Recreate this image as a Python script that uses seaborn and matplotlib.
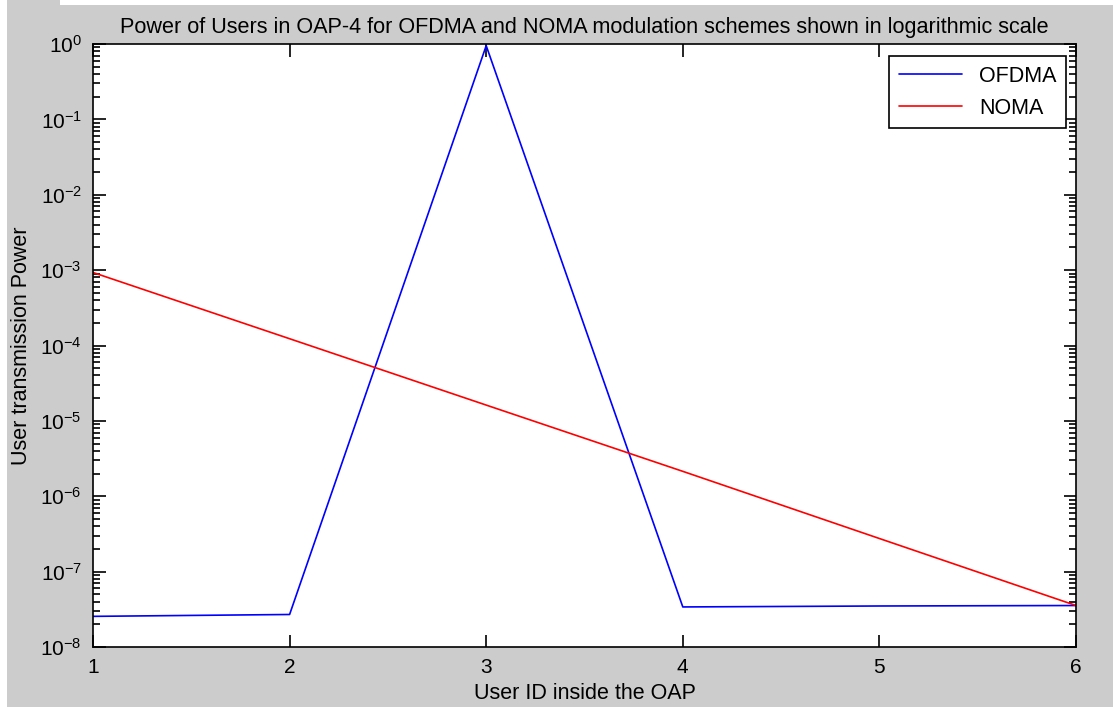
import matplotlib
matplotlib.use("Agg")
import matplotlib.pyplot as plt
import matplotlib.ticker as mticker
from matplotlib.patches import Rectangle
import numpy as np
import pandas as pd
import seaborn as sns

# User IDs and transmission powers per scheme
user_ids = [1, 2, 3, 4, 5, 6]
ofdma_power = [2.55e-8, 2.7e-8, 0.95, 3.4e-8, 3.5e-8, 3.55e-8]
noma_power = [9.3e-4, 1.23e-4, 1.62e-5, 2.14e-6, 2.75e-7, 3.55e-8]
schemes = ["OFDMA", "NOMA"]
x_ticks = [1, 2, 3, 4, 5, 6]
y_exponents = [-8, -7, -6, -5, -4, -3, -2, -1, 0]

df = pd.DataFrame({
    "user": user_ids * 2,
    "power": ofdma_power + noma_power,
    "scheme": [schemes[0]] * len(user_ids) + [schemes[1]] * len(user_ids),
})

sns.set_style("ticks")
plt.rcParams["font.family"] = ["Liberation Sans", "DejaVu Sans"]
plt.rcParams["mathtext.fontset"] = "custom"
plt.rcParams["mathtext.rm"] = "Liberation Sans"
plt.rcParams["mathtext.it"] = "Liberation Sans"
plt.rcParams["text.color"] = "black"
plt.rcParams["axes.labelcolor"] = "black"

bg = "#cccccc"
W, H = 1113, 707
fig = plt.figure(figsize=(W / 100, H / 100), dpi=100, facecolor=bg)

# thin white border strips along the left and top edges of the window
fig.patches.append(Rectangle((0, 0), 7 / W, 1, transform=fig.transFigure,
                             facecolor="white", edgecolor="none", zorder=0))
fig.patches.append(Rectangle((60 / W, 1 - 5 / H), 1, 5 / H, transform=fig.transFigure,
                             facecolor="white", edgecolor="none", zorder=0))

ax = fig.add_axes([93 / W, 1 - 647 / H, (1076 - 93) / W, (647 - 44) / H])
ax.set_facecolor("white")

sns.lineplot(data=df, x="user", y="power", hue="scheme", hue_order=schemes,
             palette={"OFDMA": "#0000ff", "NOMA": "#ff0000"}, linewidth=1.2,
             ax=ax, legend=True)

ax.set_yscale("log")
ax.set_xlim(1, 6)
ax.set_ylim(1e-8, 1e0)
ax.set_xticks(x_ticks)
ax.set_xticklabels([str(t) for t in x_ticks])

major_vals = [10.0 ** e for e in y_exponents]
minor_vals = [m * 10.0 ** e for e in y_exponents[:-1] for m in range(2, 10)]
ax.yaxis.set_major_locator(mticker.FixedLocator(major_vals))
ax.yaxis.set_minor_locator(mticker.FixedLocator(minor_vals))
ax.yaxis.set_minor_formatter(mticker.NullFormatter())
ax.yaxis.set_major_formatter(mticker.FixedFormatter(
    [r"$10^{\mathregular{%d}}$" % e for e in y_exponents]))

ax.tick_params(axis="both", which="both", direction="in", top=True, right=True,
               labelsize=15, colors="black", width=1.2)
ax.tick_params(axis="both", which="major", length=9, pad=8)
ax.tick_params(axis="both", which="minor", length=5)
for s in ax.spines.values():
    s.set_visible(True)
    s.set_linewidth(1.2)
    s.set_color("black")

ax.set_title("Power of Users in OAP-4 for OFDMA and NOMA modulation schemes shown in logarithmic scale",
             fontsize=15.6, pad=8, color="black")
ax.set_xlabel("User ID inside the OAP", fontsize=15.5, labelpad=4)
ax.set_ylabel("User transmission Power", fontsize=15.5, labelpad=6)

leg = ax.legend(loc="upper right", fontsize=15.5, frameon=True, fancybox=False,
                edgecolor="black", framealpha=1, borderpad=0.45, handlelength=2.9,
                borderaxespad=0, bbox_to_anchor=(0.9898, 0.980))
leg.get_frame().set_linewidth(1.2)
for t in leg.get_texts():
    t.set_color("black")

fig.savefig("out.png", dpi=100, facecolor=bg)
